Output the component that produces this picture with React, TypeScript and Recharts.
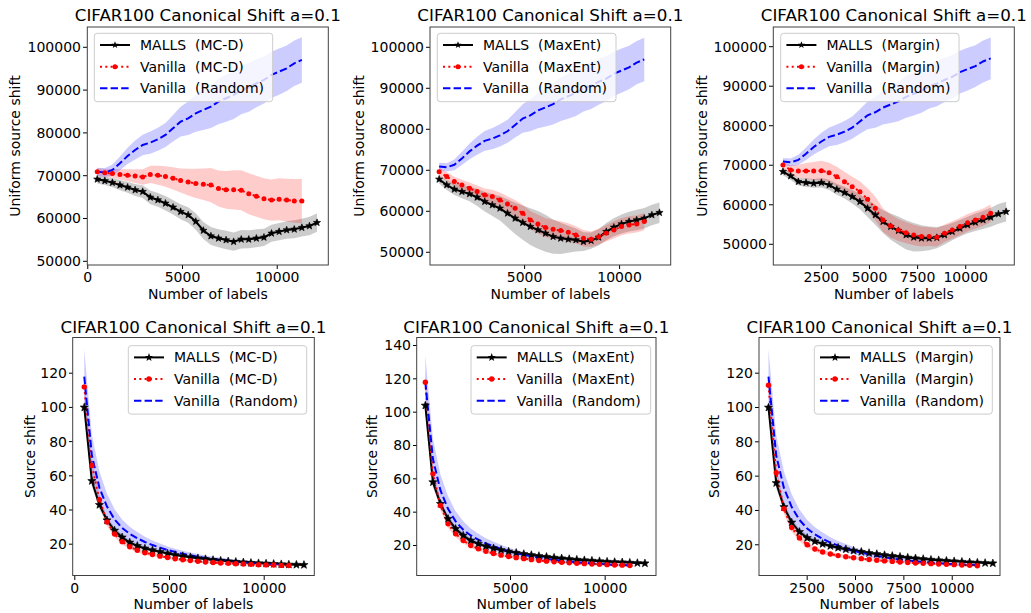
import React from 'react';
import { ComposedChart, Line, Area, XAxis, YAxis } from 'recharts';

// ---------- data ----------
const labels = [500, 900, 1300, 1700, 2100, 2500, 2900, 3300, 3700, 4100, 4500, 4900, 5300, 5700, 6100, 6500, 6900, 7300, 7700, 8100, 8500, 8900, 9300, 9700, 10100, 10500, 10900, 11300, 11700, 12100];

// top row: uniform source shift
const randomTopMean = [70950, 70720, 71340, 72900, 74610, 76010, 77180, 77730, 78500, 79520, 81070, 82630, 83410, 84580, 85360, 86140, 87310, 88090, 88860, 90030, 90650, 91590, 92370, 93540, 94320, 95090, 96260, 97040];
const randomTopSd = [900, 1000, 1300, 1600, 1900, 2200, 2400, 2600, 2700, 2800, 3100, 3500, 3900, 4300, 4700, 5000, 5300, 5500, 5600, 5700, 5700, 5600, 5500, 5400, 5400, 5300, 5300, 5300];

const mcdMallsTop = [69160, 68800, 68380, 67800, 67290, 66670, 66280, 64950, 64330, 63550, 62620, 61600, 60830, 59300, 57200, 55900, 55370, 54980, 54590, 55140, 55140, 55370, 55600, 56540, 56930, 57320, 57480, 57870, 58260, 59030];
const mcdMallsTopSd = [1000, 1000, 1100, 1200, 1300, 1400, 1500, 1600, 1600, 1700, 1700, 1750, 1800, 1900, 2000, 2100, 2100, 2150, 2150, 2150, 2100, 2100, 2000, 2000, 2000, 2050, 2100, 2100, 2150, 2150];
const mcdVanTop = [70950, 70700, 70500, 70300, 70100, 69900, 69700, 70300, 70100, 69800, 69400, 68900, 68500, 68200, 68000, 67800, 67000, 66700, 66700, 66600, 65800, 65200, 64600, 64300, 64500, 64300, 64100, 64100];
const mcdVanTopSd = [800, 900, 1000, 1200, 1400, 1600, 1800, 2000, 2200, 2400, 2600, 2800, 3100, 3400, 3700, 4000, 4200, 4400, 4600, 4700, 4800, 4800, 4800, 4800, 4900, 5000, 5100, 5200];

const maxentMallsTop = [67800, 66420, 65370, 64800, 64230, 63410, 62360, 61540, 60730, 59510, 58290, 57240, 56260, 55450, 54630, 53820, 53410, 53170, 53010, 52600, 52850, 53660, 55040, 56100, 56910, 57480, 57890, 58290, 59110, 59670];
const maxentMallsTopSd = [1000, 1200, 1400, 1600, 1800, 2100, 2400, 2700, 3000, 3400, 3800, 4200, 4500, 4600, 4500, 4200, 3800, 3300, 2800, 2300, 2000, 2000, 2100, 2200, 2300, 2400, 2500, 2500, 2500, 2500];
const maxentVanTop = [69670, 68460, 67240, 66420, 65610, 64800, 63980, 63580, 62760, 61790, 60730, 59510, 57890, 56910, 56020, 55610, 55290, 54880, 54230, 53410, 53170, 53820, 54630, 55450, 56260, 56670, 56910, 57480];
const maxentVanTopSd = [1000, 1100, 1200, 1300, 1400, 1500, 1600, 1700, 1800, 1900, 2000, 2100, 2200, 2300, 2300, 2300, 2300, 2200, 2100, 2000, 1900, 1900, 2000, 2100, 2100, 2100, 2100, 2100];

const marginMallsTop = [68380, 67280, 65850, 65600, 65430, 65600, 65010, 63910, 63070, 62050, 60790, 59100, 57420, 55730, 54470, 53460, 52360, 51770, 51520, 51520, 51690, 52360, 53200, 54050, 54890, 55560, 56150, 56830, 57670, 58260];
const marginMallsTopSd = [900, 1000, 1000, 1100, 1100, 1200, 1300, 1400, 1500, 1700, 1900, 2200, 2500, 2900, 3300, 3600, 3700, 3600, 3300, 3000, 2700, 2400, 2200, 2100, 2100, 2200, 2300, 2400, 2500, 2500];
const marginVanTop = [70060, 68800, 68550, 68550, 68550, 68630, 68120, 67110, 65850, 64580, 63320, 61380, 59100, 56150, 54640, 53620, 52950, 52360, 51940, 51940, 51770, 52780, 53620, 54470, 55480, 56150, 56830, 57840];
const marginVanTopSd = [900, 1200, 1600, 2000, 2300, 2500, 2500, 2500, 2500, 2500, 2600, 2800, 3000, 3000, 2900, 2800, 2700, 2600, 2500, 2400, 2300, 2200, 2200, 2200, 2200, 2200, 2200, 2200];

// bottom row: source shift
const randomBotMean = [118, 72, 53, 42, 34.5, 29.5, 26, 23.5, 21.3, 19.5, 18, 16.6, 15.4, 14.4, 13.5, 12.7, 12, 11.4, 10.9, 10.4, 10, 9.6, 9.3, 9, 8.7, 8.5, 8.3, 8.1];
const randomBotSd = [16, 12, 9.5, 7.5, 6, 5, 4.2, 3.6, 3.1, 2.7, 2.4, 2.1, 1.9, 1.7, 1.6, 1.5, 1.4, 1.3, 1.2, 1.1, 1.1, 1, 1, 0.9, 0.9, 0.9, 0.8, 0.8];

const mallsBotSd = [4, 3, 2.5, 2, 1.7, 1.5, 1.3, 1.2, 1.1, 1, 0.9, 0.9, 0.8, 0.8, 0.7, 0.7, 0.7, 0.6, 0.6, 0.6, 0.6, 0.5, 0.5, 0.5, 0.5, 0.5, 0.5, 0.5, 0.5, 0.5];
const vanBotSd = [6, 4, 3, 2.4, 2, 1.7, 1.5, 1.3, 1.2, 1.1, 1, 0.9, 0.9, 0.8, 0.8, 0.7, 0.7, 0.7, 0.6, 0.6, 0.6, 0.6, 0.6, 0.5, 0.5, 0.5, 0.5, 0.5];

const mcdMallsBot = [100, 57, 43, 34, 28, 24, 21, 19, 17.5, 16.5, 15.5, 14.5, 13.7, 13, 12.4, 11.8, 11.3, 10.8, 10.4, 10, 9.7, 9.4, 9.1, 8.9, 8.7, 8.5, 8.3, 8.1, 8, 7.9];
const mcdVanBot = [112, 66, 46, 33, 26, 21.5, 18.5, 16.5, 15, 14, 13, 12.2, 11.5, 10.9, 10.4, 10, 9.6, 9.3, 9, 8.8, 8.6, 8.4, 8.2, 8, 7.9, 7.8, 7.6, 7.5];
const maxentMallsBot = [104, 58, 45, 36, 30, 26, 23, 21, 19.5, 18.3, 17.3, 16.4, 15.6, 14.9, 14.3, 13.7, 13.2, 12.7, 12.3, 11.9, 11.5, 11.2, 10.9, 10.6, 10.3, 10.1, 9.9, 9.7, 9.5, 9.3];
const maxentVanBot = [118, 63, 44, 33, 27, 23, 20, 18, 16.5, 15.2, 14.2, 13.4, 12.7, 12.1, 11.5, 11, 10.6, 10.2, 9.9, 9.6, 9.3, 9.1, 8.9, 8.7, 8.5, 8.3, 8.2, 8.0];
const marginMallsBot = [100, 56, 42, 33, 27.5, 24, 22, 20.5, 19.3, 18.3, 17.4, 16.6, 15.9, 15.2, 14.6, 14, 13.5, 13, 12.5, 12.1, 11.7, 11.3, 11, 10.7, 10.4, 10.1, 9.8, 9.6, 9.4, 9.2];
const marginVanBot = [113, 62, 41, 30, 24, 20, 17.5, 15.8, 14.6, 13.7, 13, 12.4, 11.9, 11.4, 11, 10.6, 10.3, 10, 9.7, 9.4, 9.2, 9, 8.8, 8.6, 8.4, 8.2, 8, 7.8];

const topYTicks = [50000, 60000, 70000, 80000, 90000, 100000];
const botYTicks4 = [20, 40, 60, 80, 100, 120];
const botYTicks5 = [20, 40, 60, 80, 100, 120, 140];
const xTicksA = [0, 5000, 10000];
const xTicksB = [5000, 10000];
const xTicksC = [2500, 5000, 7500, 10000];

const TITLE = 'CIFAR100 Canonical Shift a=0.1';
const FONT = 'DejaVu Sans, Verdana, sans-serif';

function band(mean: number[], sd: number[], i: number) {
  if (mean[i] == null) return undefined;
  return [mean[i] - sd[i], mean[i] + sd[i]];
}

function buildRows(mm: number[], ms: number[], vm: number[], vs: number[], rm: number[], rs: number[]) {
  return labels.map((x, i) => ({
    x,
    malls: mm[i],
    mallsBand: band(mm, ms, i),
    van: vm[i],
    vanBand: band(vm, vs, i),
    rnd: rm[i],
    rndBand: band(rm, rs, i),
  }));
}

type Panel = {
  L: number; T: number; W: number; H: number;
  xDomain: [number, number]; xTicks: number[];
  yDomain: [number, number]; yTicks: number[];
  rows: any[]; method: string; ylabel: string; ylabelX: number;
  leg: { x: number; y: number; w: number; h: number };
  starR: number; dotR: number;
};

const panels: Panel[] = [
  { L: 87.3, T: 27, W: 241, H: 238, xDomain: [-40, 12680], xTicks: xTicksA, yDomain: [49136, 104740], yTicks: topYTicks,
    rows: buildRows(mcdMallsTop, mcdMallsTopSd, mcdVanTop, mcdVanTopSd, randomTopMean, randomTopSd),
    method: 'MC-D', ylabel: 'Uniform source shift', ylabelX: 15, leg: { x: 94.3, y: 33.3, w: 178.4, h: 68.4 }, starR: 3.8, dotR: 2.5 },
  { L: 430, T: 27, W: 240.7, H: 238, xDomain: [20, 12690], xTicks: xTicksB, yDomain: [46900, 104950], yTicks: topYTicks,
    rows: buildRows(maxentMallsTop, maxentMallsTopSd, maxentVanTop, maxentVanTopSd, randomTopMean, randomTopSd),
    method: 'MaxEnt', ylabel: 'Uniform source shift', ylabelX: 359, leg: { x: 437.3, y: 33.3, w: 178.7, h: 68.4 }, starR: 3.8, dotR: 2.5 },
  { L: 773.3, T: 27, W: 241, H: 238, xDomain: [-16, 12509], xTicks: xTicksC, yDomain: [44760, 104980], yTicks: topYTicks,
    rows: buildRows(marginMallsTop, marginMallsTopSd, marginVanTop, marginVanTopSd, randomTopMean, randomTopSd),
    method: 'Margin', ylabel: 'Uniform source shift', ylabelX: 701.7, leg: { x: 780.7, y: 33.3, w: 178.3, h: 68.4 }, starR: 3.8, dotR: 2.5 },
  { L: 72.7, T: 337.5, W: 241.6, H: 238, xDomain: [-95, 12661], xTicks: xTicksA, yDomain: [1.4, 140.6], yTicks: botYTicks4,
    rows: buildRows(mcdMallsBot, mallsBotSd, mcdVanBot, vanBotSd, randomBotMean, randomBotSd),
    method: 'MC-D', ylabel: 'Source shift', ylabelX: 30, leg: { x: 128.3, y: 345.7, w: 178.4, h: 68.4 }, starR: 4.3, dotR: 2.7 },
  { L: 416.7, T: 337.5, W: 239.3, H: 238, xDomain: [60, 12700], xTicks: xTicksB, yDomain: [1.7, 144.5], yTicks: botYTicks5,
    rows: buildRows(maxentMallsBot, mallsBotSd, maxentVanBot, vanBotSd, randomBotMean, randomBotSd),
    method: 'MaxEnt', ylabel: 'Source shift', ylabelX: 372.3, leg: { x: 471, y: 345.7, w: 179.7, h: 68.4 }, starR: 4.3, dotR: 2.7 },
  { L: 759, T: 337.5, W: 241, H: 238, xDomain: [10, 12470], xTicks: xTicksC, yDomain: [1.8, 140.5], yTicks: botYTicks4,
    rows: buildRows(marginMallsBot, mallsBotSd, marginVanBot, vanBotSd, randomBotMean, randomBotSd),
    method: 'Margin', ylabel: 'Source shift', ylabelX: 714.3, leg: { x: 814.3, y: 345.7, w: 178, h: 68.4 }, starR: 4.3, dotR: 2.7 },
];

function starPts(cx: number, cy: number, R: number) {
  const r = R * 0.42;
  const pts: string[] = [];
  for (let k = 0; k < 10; k++) {
    const ang = -Math.PI / 2 + (k * Math.PI) / 5;
    const rad = k % 2 === 0 ? R : r;
    pts.push(`${(cx + rad * Math.cos(ang)).toFixed(2)},${(cy + rad * Math.sin(ang)).toFixed(2)}`);
  }
  return pts.join(' ');
}

const fmt = (v: number) => String(v);

function PanelChart({ p }: { p: Panel }) {
  const tickStyle = { fill: '#000', fontSize: 14, fontFamily: FONT };
  const starDot = (props: any) => {
    const { cx, cy, index } = props;
    if (cx == null || cy == null || isNaN(cy)) return <g key={`s${index}`} />;
    return <polygon key={`s${index}`} points={starPts(cx, cy, p.starR)} fill="#000" stroke="#000" strokeWidth={0.6} />;
  };
  const redDot = (props: any) => {
    const { cx, cy, index } = props;
    if (cx == null || cy == null || isNaN(cy)) return <g key={`r${index}`} />;
    return <circle key={`r${index}`} cx={cx} cy={cy} r={p.dotR} fill="#ff0000" stroke="none" />;
  };
  return (
    <div style={{ position: 'absolute', left: p.L - 75, top: p.T - 5 }}>
      <ComposedChart width={p.W + 80} height={p.H + 35} data={p.rows} margin={{ top: 5, right: 5, left: 0, bottom: 0 }}>
        <XAxis type="number" dataKey="x" domain={p.xDomain} ticks={p.xTicks} interval={0} allowDataOverflow
          axisLine={false} tickLine={{ stroke: '#000' }} tickSize={4} tickMargin={3} height={30} tick={tickStyle} tickFormatter={fmt} />
        <YAxis type="number" domain={p.yDomain} ticks={p.yTicks} interval={0} allowDataOverflow
          axisLine={false} tickLine={{ stroke: '#000' }} tickSize={4} tickMargin={2} width={75} tick={tickStyle} tickFormatter={fmt} />
        <Area type="linear" dataKey="mallsBand" stroke="none" fill="#000000" fillOpacity={0.2} isAnimationActive={false} dot={false} activeDot={false} />
        <Area type="linear" dataKey="vanBand" stroke="none" fill="#ff0000" fillOpacity={0.2} isAnimationActive={false} dot={false} activeDot={false} />
        <Area type="linear" dataKey="rndBand" stroke="none" fill="#0000ff" fillOpacity={0.2} isAnimationActive={false} dot={false} activeDot={false} />
        <Line type="linear" dataKey="malls" stroke="#000" strokeWidth={2} dot={starDot} activeDot={false} isAnimationActive={false} />
        <Line type="linear" dataKey="van" stroke="#ff0000" strokeWidth={2} strokeDasharray="2 3.3" dot={redDot} activeDot={false} isAnimationActive={false} />
        <Line type="linear" dataKey="rnd" stroke="#0000ff" strokeWidth={2} strokeDasharray="7.4 3.2" dot={false} activeDot={false} isAnimationActive={false} />
      </ComposedChart>
    </div>
  );
}

function Overlay() {
  return (
    <svg width={1031} height={613} style={{ position: 'absolute', left: 0, top: 0, pointerEvents: 'none' }} fontFamily={FONT}>
      {panels.map((p, i) => {
        const cx = p.L + p.W / 2;
        const cy = p.T + p.H / 2;
        const lg = p.leg;
        const rows = [
          { label: `MALLS  (${p.method})`, kind: 'malls' },
          { label: `Vanilla  (${p.method})`, kind: 'van' },
          { label: 'Vanilla  (Random)', kind: 'rnd' },
        ];
        return (
          <g key={i}>
            <rect x={p.L} y={p.T} width={p.W} height={p.H} fill="none" stroke="#404040" strokeWidth={1} />
            <text x={cx} y={p.T - (i < 3 ? 6 : 4.5)} textAnchor="middle" fontSize={16.7} fill="#000">{TITLE}</text>
            <text x={cx} y={p.T + p.H + 33.5} textAnchor="middle" fontSize={14} fill="#000">Number of labels</text>
            <text transform={`translate(${p.ylabelX},${cy}) rotate(-90)`} textAnchor="middle" dominantBaseline="central" fontSize={14} fill="#000">{p.ylabel}</text>
            <rect x={lg.x} y={lg.y} width={lg.w} height={lg.h} rx={3} fill="#ffffff" fillOpacity={0.8} stroke="#cccccc" strokeWidth={1} />
            {rows.map((r, k) => {
              const yy = lg.y + 11.7 + k * 21.65;
              const x0 = lg.x + 5.7;
              const x1 = lg.x + 35.7;
              const xm = (x0 + x1) / 2;
              return (
                <g key={k}>
                  {r.kind === 'malls' && (
                    <g>
                      <line x1={x0} y1={yy} x2={x1} y2={yy} stroke="#000" strokeWidth={2} />
                      <polygon points={starPts(xm, yy, p.starR)} fill="#000" />
                    </g>
                  )}
                  {r.kind === 'van' && (
                    <g>
                      <line x1={x0} y1={yy} x2={x1} y2={yy} stroke="#ff0000" strokeWidth={2} strokeDasharray="2 3.3" />
                      <circle cx={xm} cy={yy} r={p.dotR} fill="#ff0000" />
                    </g>
                  )}
                  {r.kind === 'rnd' && (
                    <line x1={x0} y1={yy} x2={x1} y2={yy} stroke="#0000ff" strokeWidth={2} strokeDasharray="7.4 3.2" />
                  )}
                  <text x={lg.x + 45.7} y={yy + 5} fontSize={14} fill="#000" style={{ whiteSpace: 'pre' }}>{r.label}</text>
                </g>
              );
            })}
          </g>
        );
      })}
    </svg>
  );
}

export default function App() {
  return (
    <div style={{ position: 'absolute', left: 0, top: 0, width: 1031, height: 613, background: '#fff', overflow: 'hidden' }}>
      {panels.map((p, i) => <PanelChart key={i} p={p} />)}
      <Overlay />
    </div>
  );
}
